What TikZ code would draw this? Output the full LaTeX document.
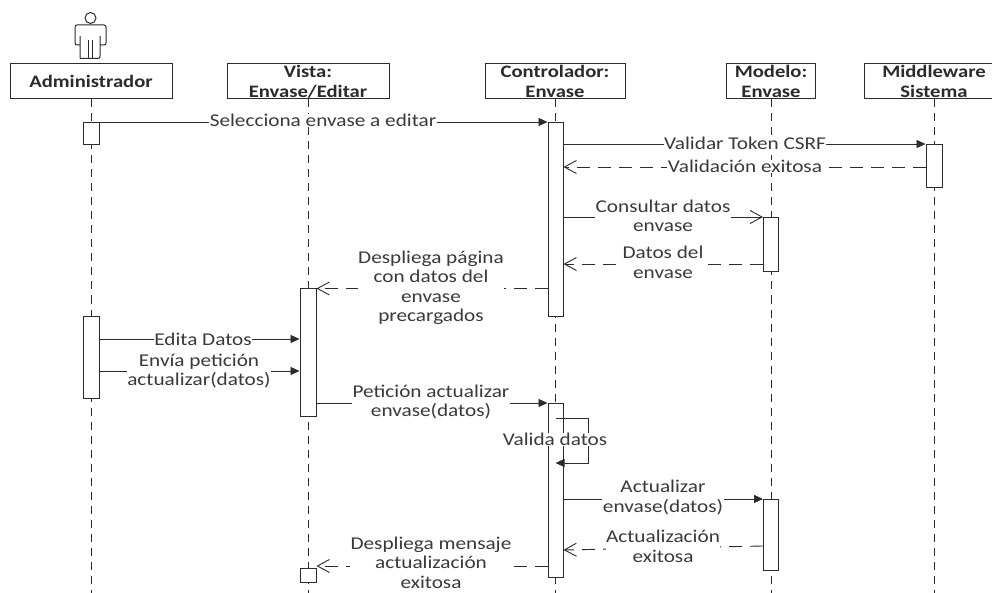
\documentclass[tikz,border=0pt]{standalone}
\usepackage{fontspec}
\usepackage{xcolor}
\usepackage{tikz}
\usetikzlibrary{arrows.meta}
\setmainfont[FakeStretch=1.18]{Carlito}
\definecolor{ink}{HTML}{2B2B2B}
\definecolor{txt}{HTML}{3A3A3A}
\tikzset{
  obj/.style={draw=ink, line width=1pt, fill=white, minimum height=35pt, inner sep=0pt, text=ink,
    font=\fontsize{17.5}{20}\selectfont\bfseries, align=center, text depth=0pt},
  bar/.style={draw=ink, line width=1pt, fill=white, minimum width=16pt, inner sep=0pt, anchor=north},
  life/.style={draw=ink, line width=1pt, dash pattern=on 8pt off 6pt},
  msg/.style={draw=ink, line width=0.9pt, -{Triangle[length=9pt,width=8pt]}},
  ask/.style={draw=ink, line width=0.9pt, -{Straight Barb[length=12pt,width=13pt]}},
  ret/.style={draw=ink, line width=0.9pt, dash pattern=on 13pt off 8pt, -{Straight Barb[length=12pt,width=13pt]}},
  lab/.style={fill=white, inner sep=0.5pt, text=txt, align=center, font=\fontsize{18}{19.5}\selectfont},
}

\begin{document}
\begin{tikzpicture}[x=1pt,y=-1pt]
  \clip (0,0) rectangle (992,593);
  \fill[white] (0,0) rectangle (992,593);

  % objects
  \node[obj, minimum width=162pt] (adm) at (91,81.5) {Administrador};
  \node[obj, minimum width=162pt] (vis) at (308,81.5) {Vista:\\Envase/Editar};
  \node[obj, minimum width=140pt] (ctl) at (555,81.5) {Controlador:\\Envase};
  \node[obj, minimum width=89pt] (mod) at (771,81.5) {Modelo:\\Envase};
  \node[obj, minimum width=140pt] (mid) at (934,81.5) {Middleware\\Sistema};

  % actor
  \draw[ink, line width=1pt] (90.5,18) circle (5.5pt);
  \draw[ink, line width=1pt, rounded corners=2pt] (80,58.5) -- (80,36) (80,45) -- (75,45) -- (75,25) -- (106,25) -- (106,45) -- (100,45) (100,36) -- (100,58.5) -- (80,58.5);
  \draw[ink, line width=0.8pt] (88,40) -- (88,58) (92,40) -- (92,58);

  % bottom ends of the lifelines
  \coordinate (end) at (0,596);
  \draw[life] (adm.south) -- (adm.south |- end);
  \draw[life] (vis.south) -- (vis.south |- end);
  \draw[life] (ctl.south) -- (ctl.south |- end);
  \draw[life] (mod.south) -- (mod.south |- end);
  \draw[life] (mid.south) -- (mid.south |- end);

  % activation bars
  \node[bar, minimum height=22pt] (admA) at (91,122) {};
  \node[bar, minimum height=82pt] (admB) at (91,316) {};
  \node[bar, minimum height=128pt] (visA) at (308,288) {};
  \node[bar, minimum height=14pt] (visB) at (308,568) {};
  \node[bar, minimum height=194pt, minimum width=15pt] (ctlA) at (555.5,122) {};
  \node[bar, minimum height=174pt, minimum width=15pt] (ctlB) at (555.5,403) {};
  \node[bar, minimum height=54pt, minimum width=15pt] (modA) at (771,217) {};
  \node[bar, minimum height=71pt, minimum width=15pt] (modB) at (771,499) {};
  \node[bar, minimum height=43pt] (midA) at (934,144) {};

  % message rows
  \coordinate (rVal) at (0,167);
  \coordinate (rDat) at (0,264);
  \coordinate (rPag) at (0,288.5);
  \coordinate (rEdi) at (0,339);
  \coordinate (rEnv) at (0,371);
  \coordinate (rPet) at (0,403);
  \coordinate (rSelf) at (0,418);
  \coordinate (rBack) at (0,463);
  \coordinate (rLoop) at (588,0);
  \coordinate (rActA) at (0,546);
  \coordinate (rActB) at (0,550);
  \coordinate (rMen) at (0,566);

  % messages
  \draw[msg] (admA.north east) -- (ctlA.north west);
  \draw[msg] (ctlA.east |- midA.north) -- (midA.north west);
  \draw[ret] (midA.west |- rVal) -- (ctlA.east |- rVal);
  \draw[ask] (ctlA.east |- modA.north) -- (modA.north west);
  \draw[ret] (modA.west |- rDat) -- (ctlA.east |- rDat);
  \draw[ret] (ctlA.west |- rPag) -- (visA.east |- rPag);
  \draw[msg] (admB.east |- rEdi) -- (visA.west |- rEdi);
  \draw[msg] (admB.east |- rEnv) -- (visA.west |- rEnv);
  \draw[msg] (visA.east |- rPet) -- (ctlB.north west);
  \draw[msg] (ctlB.north |- rSelf) -- (rLoop |- rSelf) -- (rLoop |- rBack) -- (ctlB.north |- rBack);
  \draw[msg] (ctlB.east |- modB.north) -- (modB.north west);
  \draw[ret] (modB.west |- rActA) -- (ctlB.east |- rActB);
  \draw[ret] (ctlB.west |- rMen) -- (visB.east |- rMen);

  % labels
  \node[lab] (labSel) at (323,120.5) {Selecciona envase a editar};
  \node[lab] (labTok) at (745,143) {Validar Token CSRF};
  \node[lab] (labVal) at (745,166.5) {Validación exitosa};
  \node[lab] (labCon) at (663,216) {Consultar datos\\envase};
  \node[lab] (labDat) at (663,262.5) {Datos del\\envase};
  \node[lab] (labPag) at (431,288) {Despliega página\\con datos del\\envase\\precargados};
  \node[lab] (labEdi) at (203,339) {Edita Datos};
  \node[lab] (labEnv) at (199,371) {Envía petición\\actualizar(datos)};
  \node[lab] (labPet) at (431,402) {Petición actualizar\\envase(datos)};
  \node[lab] (labVde) at (555,439.5) {Valida datos};
  \node[lab] (labAct) at (663,497.5) {Actualizar\\envase(datos)};
  \node[lab] (labAcx) at (663,546.5) {Actualización\\exitosa};
  \node[lab] (labMen) at (431,562.5) {Despliega mensaje\\actualización\\exitosa};
\end{tikzpicture}
\end{document}
